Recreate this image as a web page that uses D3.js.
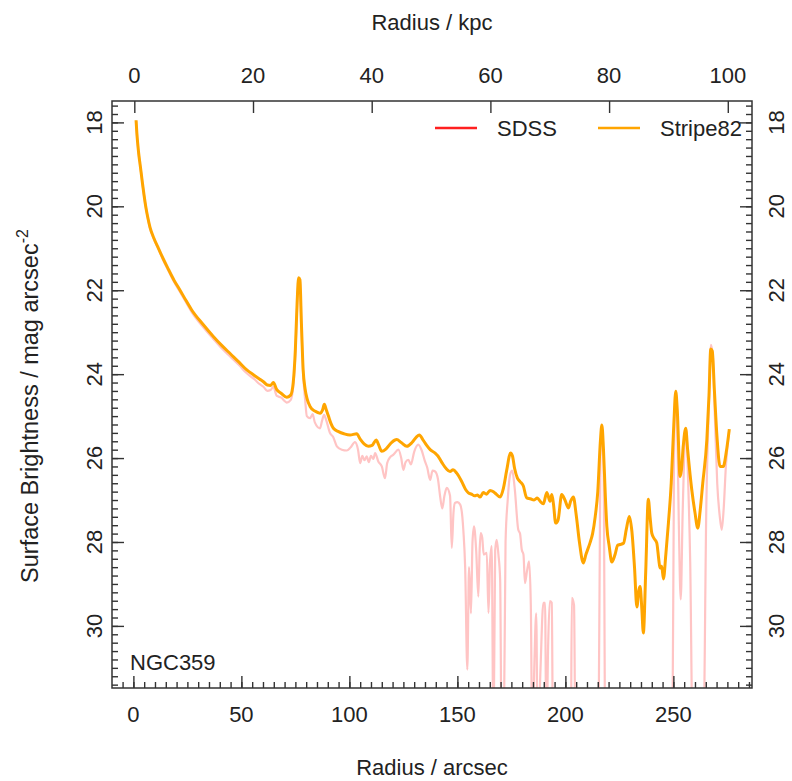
<!DOCTYPE html>
<html>
<head>
<meta charset="utf-8">
<script src="https://cdn.jsdelivr.net/npm/d3@7"></script>
<style>
body { margin: 0; background: #fff; }
text { font-family: "Liberation Sans", Arial, Helvetica, sans-serif; fill: #222; }
</style>
</head>
<body>
<div id="chart"></div>
<script>
// Stripe82 profile: radius (arcsec) and surface brightness (mag arcsec^-2)
const s82Radius = [1.25, 1.6, 2.0, 2.5, 3.1, 3.6, 4.2, 4.9, 5.7, 6.6, 7.7, 9.5, 11.6, 13.8, 16.2, 18.8, 21.6, 24.3, 27, 32, 37, 41, 45, 49, 52.5,
  56, 58.5, 60.2, 62, 63.5, 64.8, 66.4, 68.5, 71, 72.8, 74, 75, 75.8, 76.5, 77.1, 77.8, 78.6, 79.5, 80.5, 81.8,
  84, 86.4, 87.6, 88.4, 89.3, 90.3, 91.5, 92.6, 95, 97.5, 100.3, 103.4, 105, 106.8, 108.8, 110.5, 112.4, 113.5, 115, 117,
  119.5, 121.9, 124, 126.6, 129, 131, 132.4, 134, 135.8, 137.4, 139.7, 141, 143, 144.8, 146.6, 148, 149.7, 152, 153.8, 155.1,
  156.5, 158, 159.3, 160.5, 162, 163.5, 165.1, 166.7, 168, 169.8, 171.3, 172.8, 174.6, 175.5, 176.5, 177.8, 179, 180.5, 182.1, 183.8,
  185.5, 187, 188.3, 189.8, 191.4, 192.9, 193.7, 194.5, 195.5, 196.6, 198.3, 199.8, 201.4, 202.5, 203.7, 205, 206.5, 208.3, 209.5, 211.4,
  212.6, 213.8, 215, 216.2, 216.9, 217.6, 218.5, 219.2, 220.3, 221.5, 223, 224.2, 225.3, 226.9, 228.2, 229.6, 230.8, 232, 233.1, 234,
  234.6, 235.4, 236.1, 237.2, 238.4, 239.2, 240, 241.1, 242.3, 243.2, 243.8, 244.6, 245.4, 246.5, 247.7, 249, 250.2, 251.1, 251.8, 253.1,
  253.7, 254.6, 255.7, 256.6, 258.5, 260, 261.3, 262.4, 263.6, 265.5, 266.5, 267.3, 268, 269, 270.2, 271.6, 273.1, 274.5, 275.9];
const s82Mag = [17.95, 18.25, 18.5, 18.76, 19.0, 19.2, 19.45, 19.72, 20.0, 20.25, 20.5, 20.76, 21.0, 21.25, 21.5, 21.76, 22.0, 22.24, 22.47, 22.8, 23.1, 23.32, 23.52, 23.72, 23.9,
  24.03, 24.12, 24.18, 24.26, 24.27, 24.2, 24.37, 24.46, 24.55, 24.5, 24.2, 23.4, 22.3, 21.7, 21.75, 22.8, 23.9, 24.35, 24.6, 24.77,
  24.88, 24.93, 24.85, 24.72, 24.85, 25.0, 25.18, 25.29, 25.37, 25.42, 25.45, 25.42, 25.55, 25.66, 25.72, 25.7, 25.57, 25.68, 25.84, 25.78,
  25.63, 25.56, 25.63, 25.72, 25.63, 25.5, 25.45, 25.56, 25.7, 25.8, 25.88, 25.95, 26.12, 26.25, 26.32, 26.28, 26.36, 26.56, 26.75, 26.83,
  26.86, 26.9, 26.88, 26.93, 26.82, 26.86, 26.77, 26.8, 26.86, 26.93, 26.72, 26.3, 25.88, 25.95, 26.25, 26.48, 26.56, 26.66, 26.95, 26.97,
  27.0, 26.95, 27.03, 27.09, 26.82, 27.03, 26.87, 27.1, 27.55, 27.48, 26.87, 27.0, 27.19, 27.02, 26.93, 27.35, 28.0, 28.5, 28.3, 28.02,
  27.8, 27.4, 26.8, 25.6, 25.21, 25.75, 26.9, 27.63, 28.1, 28.48, 28.3, 28.08, 28.06, 28.03, 27.7, 27.39, 27.75, 28.6, 29.55, 29.15,
  29.06, 29.6, 30.17, 28.7, 26.98, 27.4, 27.79, 27.92, 28.02, 28.4, 28.62, 28.58, 28.88, 28.3, 27.55, 26.6, 25.2, 24.41, 24.85, 26.44,
  26.3, 25.7, 25.29, 25.8, 26.75, 27.3, 27.67, 27.25, 26.6, 25.56, 24.5, 23.4, 23.45, 24.4, 25.5, 26.2, 26.2, 25.85, 25.31];

// SDSS profile (values beyond 31.5 run off the bottom of the plot)
const sdssRadius = [1.25, 1.6, 2.0, 2.5, 3.1, 3.6, 4.2, 4.9, 5.7, 6.6, 7.7, 9.5, 11.6, 13.8, 16.2, 18.8, 21.6, 24.3, 27, 32, 37, 41, 45, 49, 52.5,
  56, 58.5, 60.2, 62, 63.5, 64.8, 66.4, 68.5, 70, 71, 72.8, 74, 75, 75.8, 76.5, 77.1, 77.8, 78.6, 79.5, 80.3,
  81.8, 83, 84, 86.4, 87.4, 88.3, 89.3, 91, 92.5, 94.2, 96.5, 98.8, 100.5, 102.6, 104, 105, 106, 107, 108, 109,
  110, 111.1, 111.9, 113.4, 115, 116.5, 117.5, 119, 120.4, 122.7, 124, 125, 126, 127.3, 128.5, 130, 131.9, 133.5, 135, 136,
  137.4, 138.5, 139.7, 141, 142, 143, 144, 145.1, 146.6, 147.4, 148.2, 148.9, 150, 151.3, 152.3, 152.8, 153.6, 154.6, 155.4, 156.3,
  157.0, 157.7, 158.7, 159.7, 160.3, 160.8, 161.5, 162.2, 163.6, 164.4, 165.1, 165.9, 166.7, 167.5, 168.2, 169, 169.8, 170.5, 171.4, 172.3,
  173.3, 174.4, 175.4, 176.5, 178.2, 179, 179.8, 180.6, 181.3, 182.2, 183.2, 184, 184.7, 185.6, 186.5, 187.2, 188.5, 189.8, 190.6, 191.2,
  192, 192.8, 193.7, 194.3, 202.5, 203, 204, 204.7, 215.3, 216.2, 216.9, 217.7, 218.5, 249.5, 250.3, 251.1, 251.8, 252.5, 253.4, 254.3,
  255.3, 255.9, 256.8, 257.8, 259, 263.8, 265.3, 266.5, 267.4, 268.3, 269.2, 270.3, 271.5, 272.4, 273.3, 274.3, 275.8];
const sdssMag = [17.96, 18.26, 18.51, 18.77, 19.01, 19.21, 19.46, 19.73, 20.01, 20.26, 20.52, 20.78, 21.02, 21.28, 21.53, 21.8, 22.04, 22.28, 22.52, 22.86, 23.16, 23.39, 23.59, 23.79, 23.98,
  24.12, 24.24, 24.3, 24.4, 24.38, 24.3, 24.52, 24.56, 24.64, 24.68, 24.62, 24.3, 23.5, 22.4, 21.72, 21.78, 22.9, 24.0, 24.6, 25.0,
  25.05, 24.95, 25.15, 25.29, 25.1, 24.97, 25.1, 25.4, 25.5, 25.72, 25.8, 25.82, 25.75, 25.62, 25.8, 26.12, 25.95, 26.05, 25.96, 26.1,
  25.95, 26.02, 25.88, 26.08, 26.2, 26.48, 26.12, 25.97, 25.92, 25.8, 26.0, 26.28, 26.1, 26.04, 26.15, 25.85, 25.68, 25.82, 26.08, 26.22,
  26.52, 26.3, 26.32, 26.5, 26.91, 27.2, 26.9, 26.71, 26.9, 28.14, 27.3, 27.07, 27.05, 27.11, 27.4, 27.75, 28.6, 31.04, 28.6, 29.7,
  28.0, 27.63, 28.2, 29.3, 28.2, 27.79, 27.9, 28.3, 28.26, 29.69, 28.5, 28.1, 33, 28.2, 27.95, 28.3, 28.9, 33, 33, 28.0,
  27.0, 26.4, 26.3, 26.7, 27.71, 27.8, 28.18, 28.3, 28.98, 28.7, 28.46, 29.5, 33, 31.0, 29.7, 33, 31.0, 29.45, 29.45, 33,
  30.5, 29.41, 29.45, 33, 33, 29.33, 29.5, 33, 33, 26.0, 25.3, 26.2, 33, 33, 26.0, 24.4, 25.3, 27.5, 29.37, 27.3,
  25.6, 25.3, 26.5, 28.5, 33, 33, 27.0, 24.6, 23.3, 23.6, 25.0, 26.6, 27.4, 27.71, 27.2, 26.2, 25.35];

const arcsecTicks = [0, 50, 100, 150, 200, 250];
const kpcTicks = [0, 20, 40, 60, 80, 100];
const magTicks = [18, 20, 22, 24, 26, 28, 30];
const seriesNames = ["SDSS", "Stripe82"];
const galaxyName = "NGC359";

// Set up the SVG dimensions
const svgWidth = 792;
const svgHeight = 781;
const plot = { left: 112, right: 752, top: 101, bottom: 688 };
const fontSize = 22;

const svg = d3.select("#chart")
  .append("svg")
  .attr("width", svgWidth)
  .attr("height", svgHeight);

// Scales
const xScale = d3.scaleLinear().domain([-9.9, 286.4]).range([plot.left, plot.right]);
const kpcScale = d3.scaleLinear().domain([-3.76, 104.08]).range([plot.left, plot.right]);
const yScale = d3.scaleLinear().domain([17.49, 31.48]).range([plot.top, plot.bottom]);

// Clip region
svg.append("clipPath").attr("id", "clip")
  .append("rect")
  .attr("x", plot.left).attr("y", plot.top)
  .attr("width", plot.right - plot.left).attr("height", plot.bottom - plot.top);

const line = d3.line()
  .x(d => xScale(d[0]))
  .y(d => yScale(d[1]))
  .curve(d3.curveMonotoneX);

const sdssData = sdssRadius.map((r, i) => [r, sdssMag[i]]);
const s82Data = s82Radius.map((r, i) => [r, s82Mag[i]]);

const lines = svg.append("g").attr("clip-path", "url(#clip)");
lines.append("path")
  .datum(sdssData)
  .attr("d", line)
  .attr("fill", "none")
  .attr("stroke", "#ffc4c4")
  .attr("stroke-width", 2.2)
  .attr("stroke-linejoin", "round");
lines.append("path")
  .datum(s82Data)
  .attr("d", line)
  .attr("fill", "none")
  .attr("stroke", "#ffa500")
  .attr("stroke-width", 3)
  .attr("stroke-linejoin", "round");

// Axes: ticks point inward
const axisColor = "#333";
function styleAxis(g) {
  g.select(".domain").remove();
  g.selectAll("line").attr("stroke", axisColor).attr("stroke-width", 1.4);
}
const minorX = d3.range(-5, 286, 5);
const minorY = d3.range(17.6, 31.41, 0.2);

svg.append("g")
  .attr("transform", `translate(0, ${plot.bottom})`)
  .call(d3.axisBottom(xScale).tickValues(minorX).tickSize(-6).tickFormat(""))
  .call(styleAxis);
svg.append("g")
  .attr("transform", `translate(0, ${plot.bottom})`)
  .call(d3.axisBottom(xScale).tickValues(arcsecTicks).tickSize(-12).tickFormat(""))
  .call(styleAxis);
svg.append("g")
  .attr("transform", `translate(0, ${plot.top})`)
  .call(d3.axisTop(kpcScale).tickValues(kpcTicks).tickSize(-12).tickFormat(""))
  .call(styleAxis);
[[d3.axisLeft, plot.left], [d3.axisRight, plot.right]].forEach(([axisFn, xPos]) => {
  svg.append("g")
    .attr("transform", `translate(${xPos}, 0)`)
    .call(axisFn(yScale).tickValues(minorY).tickSize(-6).tickFormat(""))
    .call(styleAxis);
  svg.append("g")
    .attr("transform", `translate(${xPos}, 0)`)
    .call(axisFn(yScale).tickValues(magTicks).tickSize(-12).tickFormat(""))
    .call(styleAxis);
});

// Frame
svg.append("rect")
  .attr("x", plot.left).attr("y", plot.top)
  .attr("width", plot.right - plot.left).attr("height", plot.bottom - plot.top)
  .attr("fill", "none")
  .attr("stroke", axisColor)
  .attr("stroke-width", 1.5);

// Tick labels
svg.selectAll(".xlab").data(arcsecTicks).enter().append("text")
  .attr("x", d => xScale(d)).attr("y", 722)
  .attr("text-anchor", "middle").style("font-size", fontSize + "px")
  .text(d => d);
svg.selectAll(".klab").data(kpcTicks).enter().append("text")
  .attr("x", d => kpcScale(d)).attr("y", 83)
  .attr("text-anchor", "middle").style("font-size", fontSize + "px")
  .text(d => d);
svg.selectAll(".ylabL").data(magTicks).enter().append("text")
  .attr("transform", d => `translate(102, ${yScale(d)}) rotate(-90)`)
  .attr("text-anchor", "middle").style("font-size", fontSize + "px")
  .text(d => d);
svg.selectAll(".ylabR").data(magTicks).enter().append("text")
  .attr("transform", d => `translate(784, ${yScale(d)}) rotate(-90)`)
  .attr("text-anchor", "middle").style("font-size", fontSize + "px")
  .text(d => d);

// Axis titles
svg.append("text")
  .attr("x", (plot.left + plot.right) / 2).attr("y", 775)
  .attr("text-anchor", "middle").style("font-size", fontSize + "px")
  .text("Radius / arcsec");
svg.append("text")
  .attr("x", (plot.left + plot.right) / 2).attr("y", 30)
  .attr("text-anchor", "middle").style("font-size", fontSize + "px")
  .text("Radius / kpc");
const yTitle = svg.append("text")
  .attr("transform", `translate(38, 406) rotate(-90)`)
  .attr("text-anchor", "middle").style("font-size", "23.5px");
yTitle.append("tspan").text("Surface Brightness / mag arcsec");
yTitle.append("tspan").attr("dy", -10).style("font-size", "16px").text("-2");

// Legend
const legendColors = ["#ff2020", "#ffa500"];
const legendX = [435, 598];
seriesNames.forEach((name, i) => {
  svg.append("line")
    .attr("x1", legendX[i]).attr("x2", legendX[i] + 42)
    .attr("y1", 128).attr("y2", 128)
    .attr("stroke", legendColors[i]).attr("stroke-width", 2.5);
  svg.append("text")
    .attr("x", legendX[i] + 62).attr("y", 136)
    .style("font-size", fontSize + "px")
    .text(name);
});

// Galaxy label
svg.append("text")
  .attr("x", 130).attr("y", 670)
  .style("font-size", fontSize + "px")
  .text(galaxyName);
</script>
</body>
</html>
